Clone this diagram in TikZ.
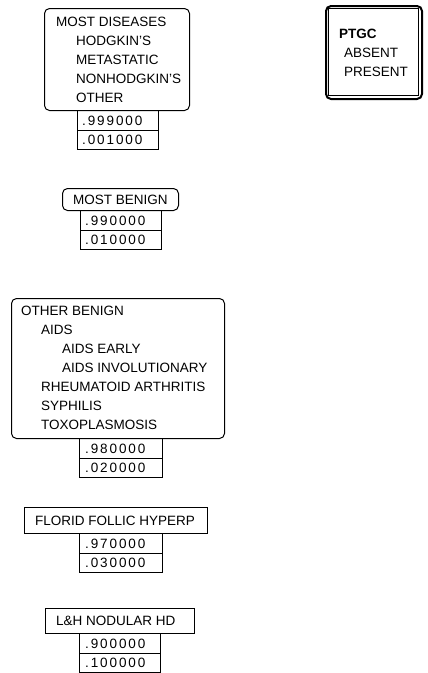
\documentclass[tikz,border=0pt]{standalone}
\usepackage{fontspec}
\setmainfont{Liberation Sans}
\newfontfamily\numfont[LetterSpace=14]{Liberation Sans}
\begin{document}
\begin{tikzpicture}[x=1pt,y=1pt,
  font=\fontsize{13.5}{16}\selectfont,
  rbox/.style={draw,line width=1pt,rounded corners=5pt,anchor=north west,inner sep=0pt},
  sbox/.style={draw,line width=1pt,anchor=north west,inner sep=0pt},
  cell/.style={draw,line width=1pt,anchor=north west,inner sep=0pt,minimum height=19.5pt},
  txt/.style={anchor=base west,inner sep=0pt},
  num/.style={anchor=base west,inner sep=0pt,font=\numfont\fontsize{13.5}{16}\selectfont}]
\useasboundingbox (0,0) rectangle (428,-673);
% ---- box 1
\node[rbox,minimum width=145pt,minimum height=102pt] (b1) at (44,-8) {};
\node[txt] (b1a) at (56,-26) {MOST DISEASES};
\node[txt] (b1b) at (76,-45) {HODGKIN'S};
\node[txt] (b1c) at (76,-64) {METASTATIC};
\node[txt] (b1d) at (76,-83) {NONHODGKIN'S};
\node[txt] (b1e) at (76,-102) {OTHER};
\node[cell,minimum width=81pt] (t1a) at (77,-110) {};
\node[cell,minimum width=81pt] (t1b) at (77,-129.5) {};
\node[num] (n1a) at (82,-125) {.999000};
\node[num] (n1b) at (82,-144.5) {.001000};
% ---- PTGC
\node[draw,line width=2pt,rounded corners=5pt,anchor=north west,minimum width=96pt,minimum height=93pt,inner sep=0pt] (p) at (325,-5) {};
\node[draw,line width=0.8pt,anchor=north west,minimum width=90pt,minimum height=87pt,inner sep=0pt] (pi) at (328,-8) {};
\node[txt,font=\fontsize{13.5}{16}\selectfont\bfseries] (pa) at (339,-38) {PTGC};
\node[txt] (pb) at (344,-57) {ABSENT};
\node[txt] (pc) at (344,-76) {PRESENT};
% ---- MOST BENIGN
\node[rbox,minimum width=116pt,minimum height=22pt] (b2) at (62,-188) {};
\node[txt] (b2a) at (73,-204) {MOST BENIGN};
\node[cell,minimum width=81pt] (t2a) at (80,-210) {};
\node[cell,minimum width=81pt] (t2b) at (80,-229.5) {};
\node[num] (n2a) at (85,-225) {.990000};
\node[num] (n2b) at (85,-244.5) {.010000};
% ---- OTHER BENIGN
\node[rbox,minimum width=213pt,minimum height=140pt] (b3) at (11,-298) {};
\node[txt] (b3a) at (21,-315) {OTHER BENIGN};
\node[txt] (b3b) at (41,-334) {AIDS};
\node[txt] (b3c) at (62,-353) {AIDS EARLY};
\node[txt] (b3d) at (62,-372) {AIDS INVOLUTIONARY};
\node[txt] (b3e) at (41,-391) {RHEUMATOID ARTHRITIS};
\node[txt] (b3f) at (41,-410) {SYPHILIS};
\node[txt] (b3g) at (41,-429) {TOXOPLASMOSIS};
\node[cell,minimum width=83pt] (t3a) at (79,-438) {};
\node[cell,minimum width=83pt] (t3b) at (79,-457.5) {};
\node[num] (n3a) at (85,-453) {.980000};
\node[num] (n3b) at (85,-472.5) {.020000};
% ---- FLORID
\node[sbox,minimum width=183pt,minimum height=26pt] (b4) at (24,-507) {};
\node[txt] (b4a) at (35,-525) {FLORID FOLLIC HYPERP};
\node[cell,minimum width=83pt] (t4a) at (79,-533) {};
\node[cell,minimum width=83pt] (t4b) at (79,-552.5) {};
\node[num] (n4a) at (85,-548) {.970000};
\node[num] (n4b) at (85,-567.5) {.030000};
% ---- L&H
\node[sbox,minimum width=149pt,minimum height=25pt] (b5) at (45,-608) {};
\node[txt] (b5a) at (56,-625.5) {L\&H NODULAR HD};
\node[cell,minimum width=81pt] (t5a) at (79,-633) {};
\node[cell,minimum width=81pt] (t5b) at (79,-652.5) {};
\node[num] (n5a) at (85,-648) {.900000};
\node[num] (n5b) at (85,-667.5) {.100000};
\end{tikzpicture}
\end{document}
